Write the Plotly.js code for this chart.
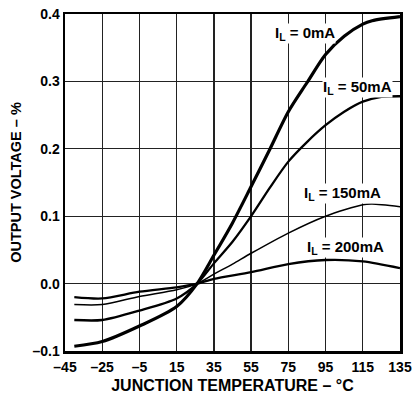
<!DOCTYPE html>
<html>
<head>
<meta charset="utf-8">
<script src="https://cdn.plot.ly/plotly-3.0.1.min.js"></script>
<style>html,body{margin:0;padding:0;background:#fff;}#chart{width:417px;height:395px;}</style>
</head>
<body>
<div id="chart"></div>
<script>
// Junction temperature (°C) and output voltage change (%)
const temp0 = [-40, -25, -5, 15, 26, 35, 45, 55, 65, 75, 85, 95, 105, 115, 120, 135];
const out0  = [-0.093, -0.086, -0.063, -0.034, 0, 0.042, 0.09, 0.144, 0.199, 0.255, 0.298, 0.34, 0.367, 0.385, 0.390, 0.396];

const temp50 = [-40, -25, -5, 15, 26, 35, 45, 55, 65, 75, 85, 95, 105, 115, 125, 135];
const out50  = [-0.054, -0.054, -0.040, -0.022, 0, 0.03, 0.062, 0.1, 0.142, 0.181, 0.21, 0.235, 0.255, 0.27, 0.277, 0.278];

const temp150 = [-40, -25, -5, 15, 26, 35, 45, 55, 75, 95, 115, 120, 135];
const out150  = [-0.031, -0.031, -0.019, -0.009, 0, 0.014, 0.029, 0.045, 0.075, 0.1, 0.117, 0.118, 0.114];

const temp200 = [-40, -25, -5, 15, 26, 35, 55, 75, 95, 115, 135];
const out200  = [-0.020, -0.022, -0.012, -0.0055, 0, 0.007, 0.017, 0.029, 0.035, 0.033, 0.023];

const seriesLabels = ['I<sub>L</sub> = 0mA', 'I<sub>L</sub> = 50mA', 'I<sub>L</sub> = 150mA', 'I<sub>L</sub> = 200mA'];
const labelX = [84, 112, 104, 105.5];
const labelY = [0.371, 0.291, 0.134, 0.053];

const xTicks = [-45, -25, -5, 15, 35, 55, 75, 95, 115, 135];
const yTicks = [-0.1, 0.0, 0.1, 0.2, 0.3, 0.4];

const FONT = 'Liberation Sans, Arial, sans-serif';
function tr(x, y, w) {
  return {x: x, y: y, type: 'scatter', mode: 'lines',
    line: {color: '#000', width: w, shape: 'spline', smoothing: 0.8},
    hoverinfo: 'skip', showlegend: false};
}
const data = [tr(temp0, out0, 3.2), tr(temp50, out50, 2.3), tr(temp150, out150, 1.5), tr(temp200, out200, 2.3)];

const annotations = seriesLabels.map((t, i) => ({
  x: labelX[i], y: labelY[i], xref: 'x', yref: 'y', text: t, showarrow: false,
  bgcolor: '#fff', borderpad: 0,
  font: {family: FONT, size: 15, color: '#000', weight: 'bold'}
}));

const layout = {
  width: 417, height: 395,
  margin: {l: 65, r: 17, t: 14, b: 44},
  paper_bgcolor: '#fff', plot_bgcolor: '#fff',
  font: {family: FONT, color: '#000', weight: 'bold'},
  xaxis: {
    range: [-45, 135], tickmode: 'array', tickvals: xTicks,
    ticktext: xTicks.map(v => v < 0 ? '\u2013' + Math.abs(v) : String(v)),
    showgrid: true, gridcolor: '#222', gridwidth: 1.3, zeroline: false,
    showline: true, linecolor: '#000', linewidth: 2.5, mirror: true,
    ticks: '', ticklabelstandoff: 2, tickfont: {family: FONT, size: 14, weight: 'bold'},
    title: {text: 'JUNCTION TEMPERATURE \u2013 \u00B0C', font: {family: FONT, size: 16, weight: 'bold'}, standoff: 6}
  },
  yaxis: {
    range: [-0.1, 0.4], tickmode: 'array', tickvals: yTicks,
    ticktext: yTicks.map(v => v < 0 ? '\u2013' + Math.abs(v).toFixed(1) : v.toFixed(1)),
    showgrid: true, gridcolor: '#222', gridwidth: 1.3, zeroline: false,
    showline: true, linecolor: '#000', linewidth: 2.5, mirror: true,
    ticks: '', tickfont: {family: FONT, size: 14, weight: 'bold'},
    title: {text: 'OUTPUT VOLTAGE \u2013 %', font: {family: FONT, size: 14.5, weight: 'bold'}, standoff: 8}
  },
  annotations: annotations
};

Plotly.newPlot('chart', data, layout, {staticPlot: true, displayModeBar: false});
</script>
</body>
</html>
